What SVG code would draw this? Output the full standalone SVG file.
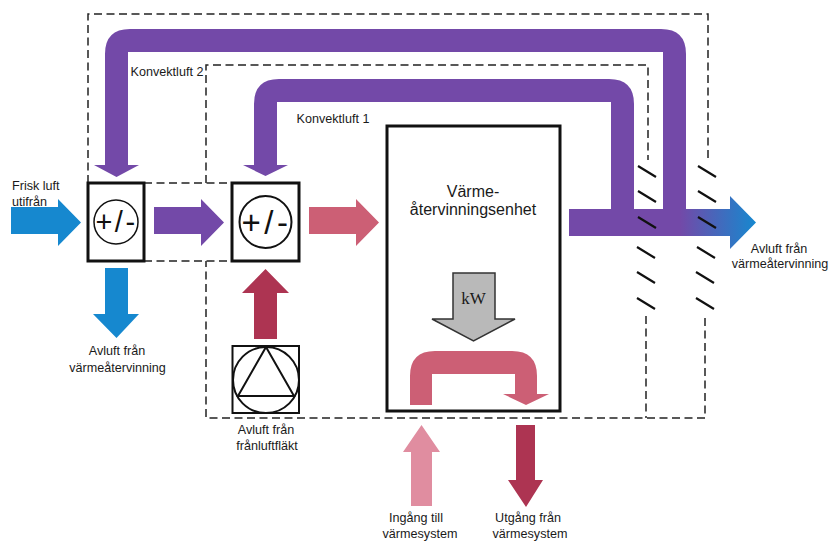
<svg xmlns="http://www.w3.org/2000/svg" width="830" height="541" viewBox="0 0 830 541">
<style>
text{font-family:"Liberation Sans",Arial,sans-serif;font-size:12.600px;fill:#1a1a1a;text-anchor:middle}
.dash{fill:none;stroke:#222;stroke-width:1.500;stroke-dasharray:8 4.500}
.box{fill:#fff;stroke:#111;stroke-width:3}
.thin{fill:none;stroke:#111;stroke-width:2}
.tick{stroke:#111;stroke-width:2.200;fill:none}
.purple{fill:#7349a8}.blue{fill:#1688cf}.pink{fill:#cc5f75}.red{fill:#ad3452}.pale{fill:#e08da0}
</style>
<defs>
<linearGradient id="fade" gradientUnits="userSpaceOnUse" x1="680" y1="0" x2="756" y2="0"><stop offset="0" stop-color="#7349a8"/><stop offset="1" stop-color="#1688cf"/></linearGradient>
</defs>
<g id="connectors">
<path class="dash" d="M88 183V14H708V161M705 318V418H206V261M206 183V65H648V160M646 316V418"/>
<path class="dash" d="M144 183H232M144 261H232"/>
<path class="purple" d="M105 165V54Q105 29 130 29H661Q686 29 686 54V236H663V52H128V165H139L116.500 177L94 165Z"/>
<path class="purple" d="M254 165V104Q254 79 279 79H609Q634 79 634 104V210H611V102H277V165H288L265.500 176L243 165Z"/>
<rect class="purple" x="569" y="209" width="120" height="27"/>
<path fill="url(#fade)" d="M680 209H730V196L756 222.500L730 249V236H680Z"/>
<path class="blue" d="M11 207H58V199L81 222.500L58 246V234H11Z"/>
<path class="purple" d="M154 207H201V199L224 222.500L201 246V234H154Z"/>
<path class="pink" d="M309 207H356V199L379 222.500L356 246V234H309Z"/>
<path class="blue" d="M105 268H128V314H139L116.500 338L93 314H105Z"/>
<path class="red" d="M254 339V293H242L265.500 269L289 293H277V339Z"/>
<path class="pale" d="M411 506V452H403L421.500 425L440 452H432V506Z"/>
<path class="red" d="M516 425H535V480H543L526 507L508 480H516Z"/>
<g class="tick">
<path d="M638 166L656 177M638 191L656 202M638 217L656 228M637 247L655 258M637 272L655 283M637 298L655 309"/>
<path d="M698 166L716 177M698 191L716 202M698 217L716 228M697 247L715 258M696 272L714 283M696 298L714 309"/>
</g>
</g>
<g id="mixer1">
<rect class="box" x="88" y="183" width="56" height="78"/>
<circle cx="116" cy="222" r="22" fill="none" stroke="#111" stroke-width="1.500"/>
<text x="116.500" y="232" style="font-size:29px;letter-spacing:2.500px;fill:#111">+/-</text>
</g>
<g id="mixer2">
<rect class="box" x="232" y="183" width="67" height="78"/>
<circle class="thin" cx="265.500" cy="222" r="26"/>
<text x="266.500" y="234" style="font-size:33px;letter-spacing:3.500px;fill:#111">+/-</text>
</g>
<g id="fan">
<rect class="thin" x="232.500" y="346" width="66.500" height="67"/>
<circle class="thin" cx="266" cy="380" r="33"/>
<path class="thin" d="M266 347L238 396H294Z"/>
</g>
<g id="unit">
<rect class="box" x="387" y="126" width="173" height="285"/>
<text x="473" y="197" style="font-size:16px">Värme-</text>
<text x="473" y="215" style="font-size:16px">återvinningsenhet</text>
<path d="M453 273H495V319H515L473.500 341L432 319H453Z" fill="#b9b9b9" stroke="#333" stroke-width="1.500"/>
<text x="473.500" y="304" style="font-family:'Liberation Serif','DejaVu Serif',serif;font-size:17px">kW</text>
<path class="pink" d="M410 405V376Q410 351 435 351H512Q537 351 537 376V394H549L526 405L503 394H515V374H432V405Z"/>
</g>
<g id="labels">
<text x="12" y="190" style="text-anchor:start">Frisk luft</text>
<text x="12" y="206" style="text-anchor:start">utifrån</text>
<text x="167" y="76">Konvektluft 2</text>
<text x="333" y="123">Konvektluft 1</text>
<text x="117" y="355">Avluft från</text>
<text x="117.500" y="372">värmeåtervinning</text>
<text x="266" y="434">Avluft från</text>
<text x="267" y="450">frånluftfläkt</text>
<text x="779" y="253">Avluft från</text>
<text x="780" y="268">värmeåtervinning</text>
<text x="416" y="522">Ingång till</text>
<text x="420" y="538">värmesystem</text>
<text x="528" y="522">Utgång från</text>
<text x="530" y="538">värmesystem</text>
</g>
</svg>
